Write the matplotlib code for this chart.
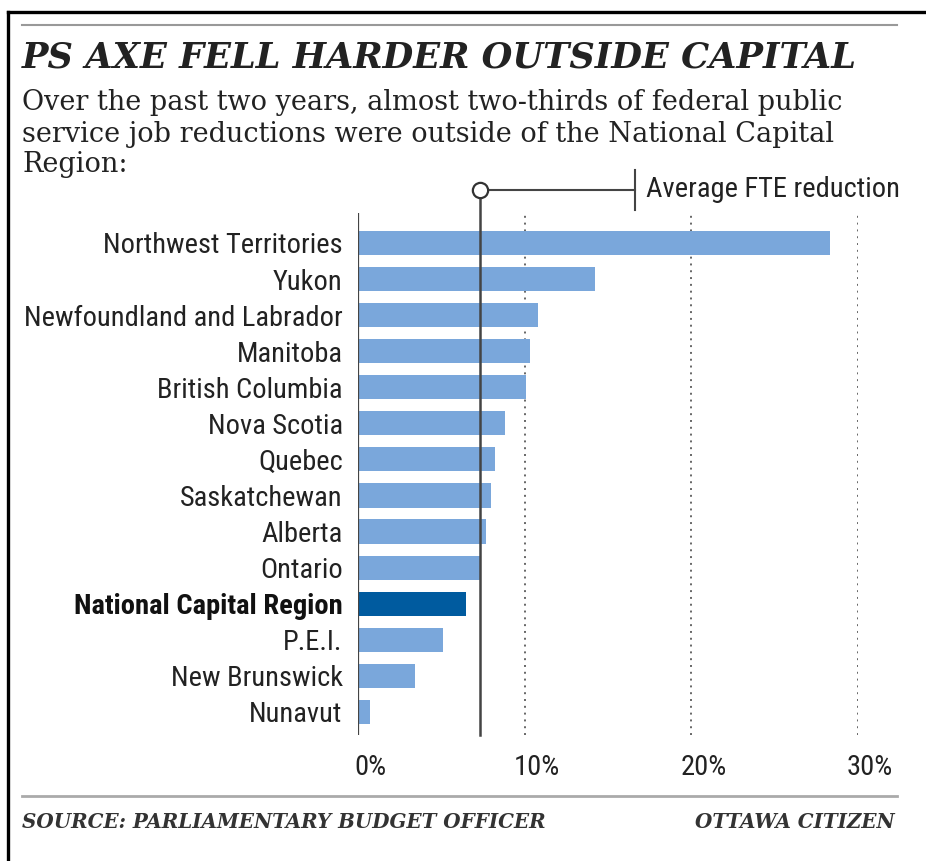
import matplotlib
matplotlib.use("Agg")
import matplotlib.pyplot as plt
import matplotlib.transforms as mtransforms
from matplotlib import font_manager
from matplotlib.lines import Line2D

# data (share of FTE cut, %)
regions = ["Northwest Territories", "Yukon", "Newfoundland and Labrador", "Manitoba",
           "British Columbia", "Nova Scotia", "Quebec", "Saskatchewan", "Alberta",
           "Ontario", "National Capital Region", "P.E.I.", "New Brunswick", "Nunavut"]
reduction_pct = [28.3, 14.2, 10.8, 10.3, 10.1, 8.8, 8.2, 8.0, 7.7, 7.3, 6.5, 5.1, 3.4, 0.7]
highlight = "National Capital Region"
average_pct = 7.3
x_ticks = [0, 10, 20, 30]
x_tick_labels = ["0%", "10%", "20%", "30%"]

LIGHT = "#7aa7db"
DARK = "#005b9f"
INK = "#222222"

installed = {f.name for f in font_manager.fontManager.ttflist}


def pick(*names):
    for n in names:
        if n in installed:
            return n
    return "DejaVu Sans"


NARROW = pick("Roboto Condensed", "Liberation Sans Narrow", "DejaVu Sans Condensed")
label_size = 14.5 if NARROW == "DejaVu Sans" else 20.5

W, H = 926, 861
fig = plt.figure(figsize=(W / 100, H / 100), dpi=100)
fig.patch.set_facecolor("white")


def fx(x):
    return x / W


def fy(y):
    return 1 - y / H


# axes placed so that 0% .. 30% runs between the axis line and the last grid line
y_top, y_bot = -0.83, 13.64
ax = fig.add_axes([fx(358), fy(735), fx(858) - fx(358), fy(213) - fy(735)])
ax.set_xlim(0, 30)
ax.set_ylim(y_bot, y_top)
for s in ax.spines.values():
    s.set_visible(False)

colors = [DARK if r == highlight else LIGHT for r in regions]
ax.barh(range(len(regions)), reduction_pct, height=0.67, color=colors, zorder=2)

for t in x_ticks[1:]:
    ax.axvline(t, color="#666666", ls=(0, (1, 2.5)), lw=1.4, zorder=1)
ax.axvline(0, color="#444444", lw=1.6, zorder=3)

# average marker
marker_y = -1.47
bracket_x = 16.6
ax.plot([average_pct, average_pct], [y_bot, marker_y], color="#444444", lw=1.8,
        zorder=4, clip_on=False)
ax.plot([average_pct, bracket_x], [marker_y, marker_y], color="#444444", lw=1.5,
        zorder=4, clip_on=False)
ax.plot([bracket_x, bracket_x], [-2.02, -0.91], color="#444444", lw=1.5,
        zorder=4, clip_on=False)
ax.plot([average_pct], [marker_y], marker="o", ms=11, mfc="white", mec="#333333",
        mew=1.6, zorder=5, clip_on=False)
ax.text(bracket_x + 0.65, marker_y, "Average FTE reduction", family=NARROW,
        fontsize=label_size, color=INK, va="center", ha="left", clip_on=False)

ax.set_xticks(x_ticks, x_tick_labels)
ax.set_yticks(range(len(regions)), regions)
ax.tick_params(axis="x", length=0, pad=14, labelsize=label_size, labelcolor=INK)
ax.tick_params(axis="y", length=0, pad=11, labelsize=label_size, labelcolor=INK)
shift = mtransforms.ScaledTranslation(12 / 100, 0, fig.dpi_scale_trans)
for lab in ax.get_xticklabels():
    lab.set_family(NARROW)
    lab.set_transform(lab.get_transform() + shift)
for lab in ax.get_yticklabels():
    lab.set_family(NARROW)
    if lab.get_text() == highlight:
        lab.set_fontweight("bold")
        lab.set_color("#111111")

# frame and rules
fig.add_artist(Line2D([fx(8), 1], [fy(12), fy(12)], color="black", lw=2.4))
fig.add_artist(Line2D([fx(8), fx(8)], [fy(12), 0], color="black", lw=2.4))
fig.add_artist(Line2D([fx(22), fx(897)], [fy(25), fy(25)], color="#999999", lw=1.5))
fig.add_artist(Line2D([fx(22), fx(897)], [fy(796), fy(796)], color="#aaaaaa", lw=2))

fig.text(fx(22), fy(57), "PS AXE FELL HARDER OUTSIDE CAPITAL", family="DejaVu Serif",
         fontweight="bold", style="italic", fontsize=25.4, color=INK, va="center")
subtitle = ["Over the past two years, almost two-thirds of federal public",
            "service job reductions were outside of the National Capital",
            "Region:"]
for i, line in enumerate(subtitle):
    fig.text(fx(22), fy(103 + 31 * i), line, family="DejaVu Serif", fontsize=19.5,
             color=INK, va="center")

fig.text(fx(22), fy(822), "SOURCE: PARLIAMENTARY BUDGET OFFICER", family="DejaVu Serif",
         fontweight="bold", style="italic", fontsize=14.3, color="#333333", va="center")
fig.text(fx(895), fy(822), "OTTAWA CITIZEN", family="DejaVu Serif", fontweight="bold",
         style="italic", fontsize=14.3, color="#333333", va="center", ha="right")

fig.savefig("out.png", dpi=100, facecolor="white")
